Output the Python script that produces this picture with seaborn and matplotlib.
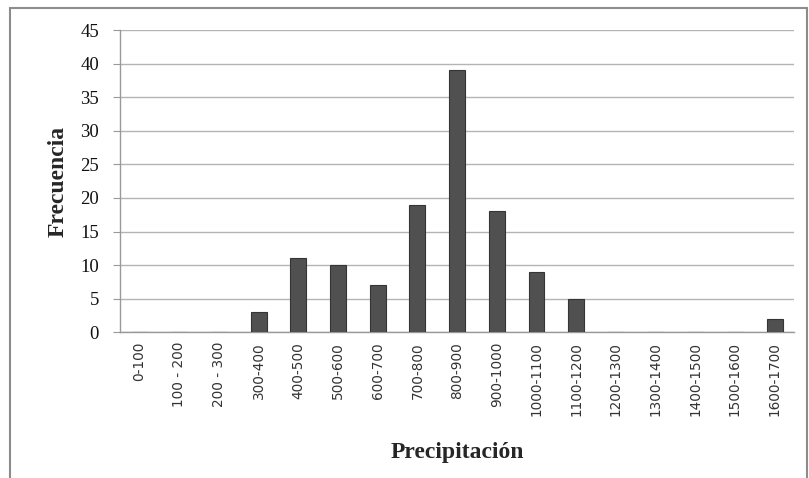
import matplotlib
matplotlib.use("Agg")
import matplotlib.pyplot as plt
import seaborn as sns
import pandas as pd
from matplotlib.patches import Rectangle

# Precipitation classes and their frequencies
categories = ["0-100", "100 - 200", "200 - 300", "300-400", "400-500", "500-600",
              "600-700", "700-800", "800-900", "900-1000", "1000-1100", "1100-1200",
              "1200-1300", "1300-1400", "1400-1500", "1500-1600", "1600-1700"]
frequencies = [0, 0, 0, 3, 11, 10, 7, 19, 39, 18, 9, 5, 0, 0, 0, 0, 2]
y_ticks = [0, 5, 10, 15, 20, 25, 30, 35, 40, 45]

df = pd.DataFrame({"Precipitación": categories, "Frecuencia": frequencies})

sns.set_style("white")
plt.rcParams["font.family"] = ["Liberation Serif", "DejaVu Serif"]

fig = plt.figure(figsize=(8.09, 4.78), dpi=100)
ax = fig.add_axes([0.148, 0.305, 0.834, 0.632])

sns.barplot(data=df, x="Precipitación", y="Frecuencia", ax=ax,
            color="#505050", width=0.4, saturation=1,
            edgecolor="#353535", linewidth=0.8, zorder=3)

ax.set_ylim(0, 45)
ax.set_xlim(-0.5, len(categories) - 0.5)
ax.set_yticks(y_ticks)
ax.set_yticklabels([str(v) for v in y_ticks], fontsize=13.5, color="#111111")
ax.yaxis.grid(True, color="#b4b4b4", linewidth=1.0, zorder=0)
ax.set_axisbelow(True)

ax.set_xticks(range(len(categories)))
ax.set_xticklabels(categories, rotation=90, fontsize=9.8, color="#333333",
                   family=["DejaVu Sans"])
ax.tick_params(axis="x", length=0, pad=7)
ax.tick_params(axis="y", length=5, width=0.8, color="#999999", left=True, pad=10)

for side in ["top", "right"]:
    ax.spines[side].set_visible(False)
for side in ["left", "bottom"]:
    ax.spines[side].set_color("#999999")
    ax.spines[side].set_linewidth(1.0)

ax.set_xlabel("Precipitación", fontsize=17, fontweight="bold", labelpad=19)
ax.set_ylabel("Frecuencia", fontsize=17, fontweight="bold", labelpad=8)

# Chart frame around the figure
fig.patches.append(Rectangle((0.0125, -0.05), 0.985, 0.033 + 1.0, transform=fig.transFigure,
                             fill=False, edgecolor="#8c8c8c", linewidth=1.5))

fig.savefig("out.png", dpi=100)
